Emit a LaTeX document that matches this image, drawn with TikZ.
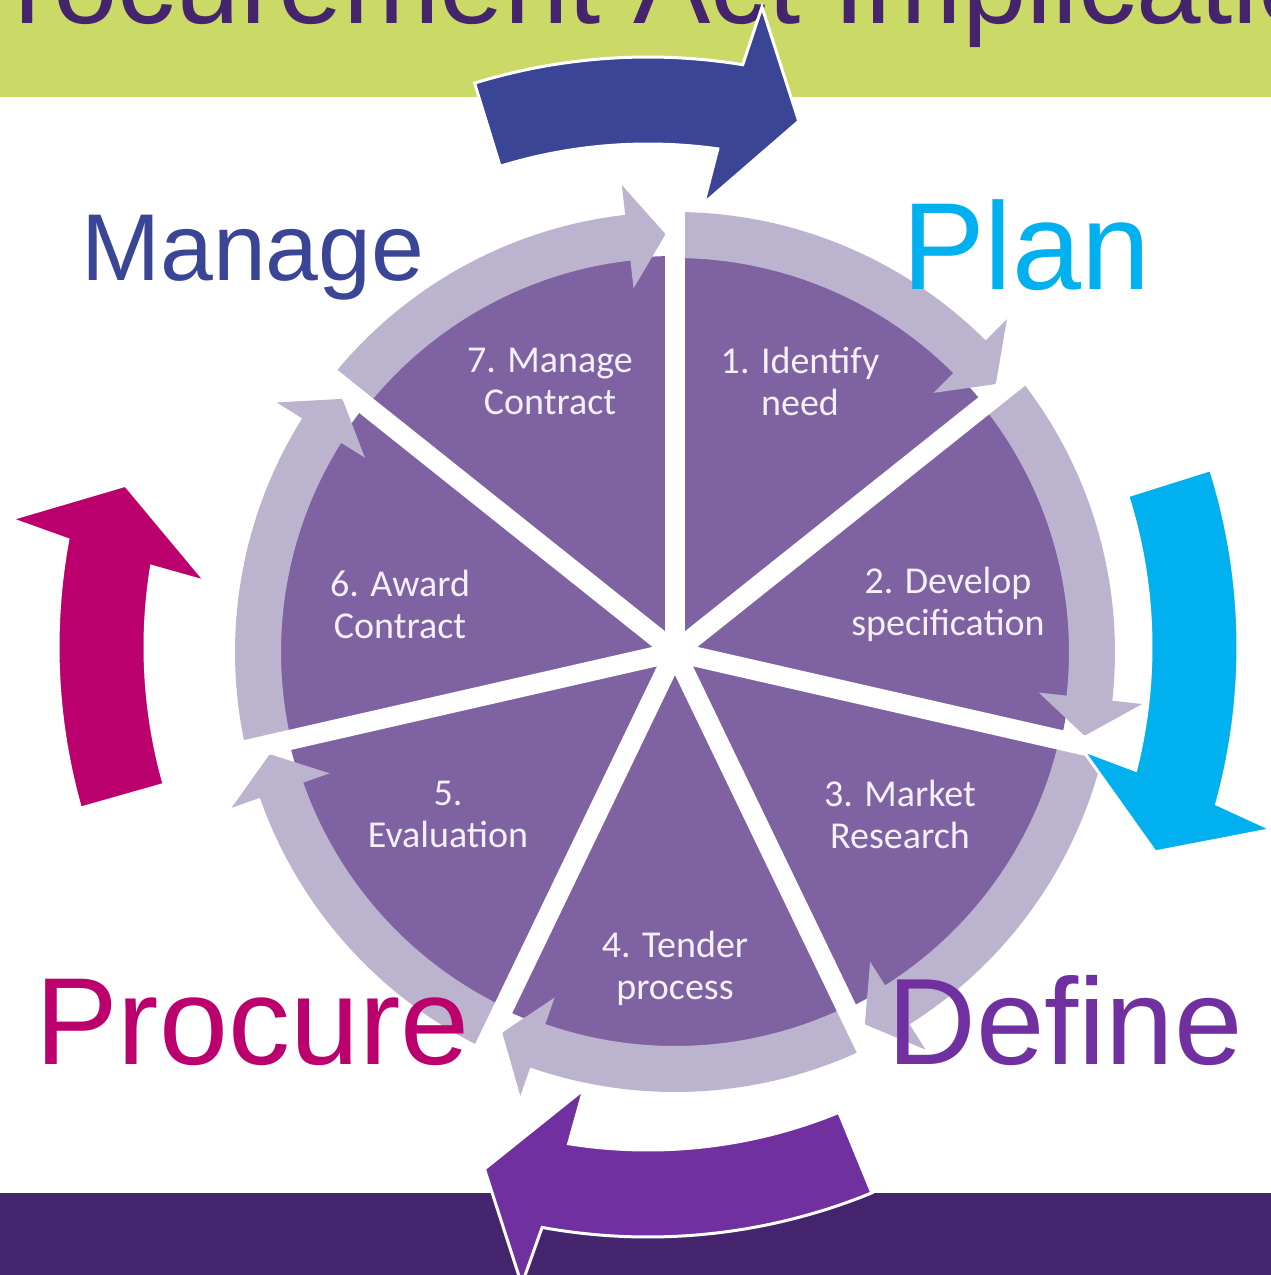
\documentclass[tikz,border=0pt]{standalone}
\usepackage{fontspec}
\setmainfont{Liberation Sans}
\newfontfamily\calib{Carlito}
\definecolor{titlegreen}{HTML}{CBD966}
\definecolor{darkbar}{HTML}{44256D}
\definecolor{segpurple}{HTML}{7F62A1}
\definecolor{bandc}{HTML}{BCB4CF}
\definecolor{labelc}{HTML}{F4F0F7}
\definecolor{navyc}{HTML}{3A4595}
\definecolor{cyanc}{HTML}{00B0EF}
\definecolor{magc}{HTML}{BB006D}
\definecolor{violc}{HTML}{7030A0}
\newcommand{\bigarw}[4]{%
  \fill[#4, draw=white, line width=3pt, line join=miter]
    (#1:590) arc[start angle=#1, end angle={#2-0.64}, radius=590pt]
    -- ({#2-1.5}:650) -- (#3:547) -- ({#2+1.44}:447) -- ({#2+0.62}:503)
    arc[start angle={#2+0.62}, end angle=#1, radius=503pt] -- cycle;}
\tikzset{
  seglabel/.style={text=labelc, font=\calib\fontsize{38}{42}\selectfont, align=center, inner sep=0pt},
  phase/.style={anchor=base west, inner sep=0pt},
  titletext/.style={anchor=base west, inner sep=0pt, text=darkbar, font=\fontsize{116}{120}\selectfont}
}
\begin{document}
\begin{tikzpicture}[x=1pt,y=-1pt]
\useasboundingbox (0,0) rectangle (1271,1275);
\clip (0,0) rectangle (1271,1275);
\fill[white] (0,0) rectangle (1271,1275);
% title bar
\fill[titlegreen] (0,0) rectangle (1271,97);
\node[titletext] (title) at (-63,23) {Procurement Act Implications};
% bottom bar
\fill[darkbar] (0,1193) rectangle (1271,1275);
% pie
\begin{scope}[shift={(675,652)}, y=1pt]
  \fill[segpurple] (0,0) circle[radius=396pt];
  \foreach \k in {1,...,7} {
    \pgfmathsetmacro{\angS}{90-(\k-1)*360/7}
    \pgfmathsetmacro{\angD}{90-\k*360/7}
    \pgfmathsetmacro{\angB}{\angD+6.5}
    \pgfmathsetmacro{\angT}{\angD+1.3}
    \fill[bandc] (\angS:440) arc[start angle=\angS, end angle=\angB, radius=440pt]
      -- (\angB:470) -- (\angT:418) -- (\angB:366) -- (\angB:394)
      arc[start angle=\angB, end angle=\angS, radius=394pt] -- cycle;
  }
  \foreach \k in {0,...,6} {
    \draw[white, line width=20pt] (0,0) -- ({90-\k*360/7}:480);
  }
\end{scope}
% segment labels
\node[seglabel] (s7) at (550,381) {7. Manage\\Contract};
\node[seglabel] (s1) at (800,381) {1. Identify\\need};
\node[seglabel] (s2) at (948,604) {2. Develop\\specification};
\node[seglabel] (s3) at (900,814) {3. Market\\Research};
\node[seglabel] (s4) at (675,968) {4. Tender\\process};
\node[seglabel] (s5) at (448,814) {5.\\Evaluation};
\node[seglabel] (s6) at (400,604) {6. Award\\Contract};
% big cycle arrows
\begin{scope}[shift={(648,647)}, y=1pt]
  \bigarw{107.1}{81.4}{74}{navyc}
  \bigarw{17.5}{-14.8}{-22}{cyanc}
  \bigarw{-67.7}{-99.7}{-107.4}{violc}
  \bigarw{195.85}{170.15}{162.8}{magc}
\end{scope}
% phase labels
\node[phase, text=navyc, font=\fontsize{95}{100}\selectfont] (manage) at (81,280) {Manage};
\node[phase, text=cyanc, font=\fontsize{124}{130}\selectfont] (plan) at (902,289) {Plan};
\node[phase, text=violc, font=\fontsize{123}{130}\selectfont] (define) at (887,1064) {Define};
\node[phase, text=magc, font=\fontsize{124}{130}\selectfont] (procure) at (35,1064) {Procure};
\end{tikzpicture}
\end{document}
